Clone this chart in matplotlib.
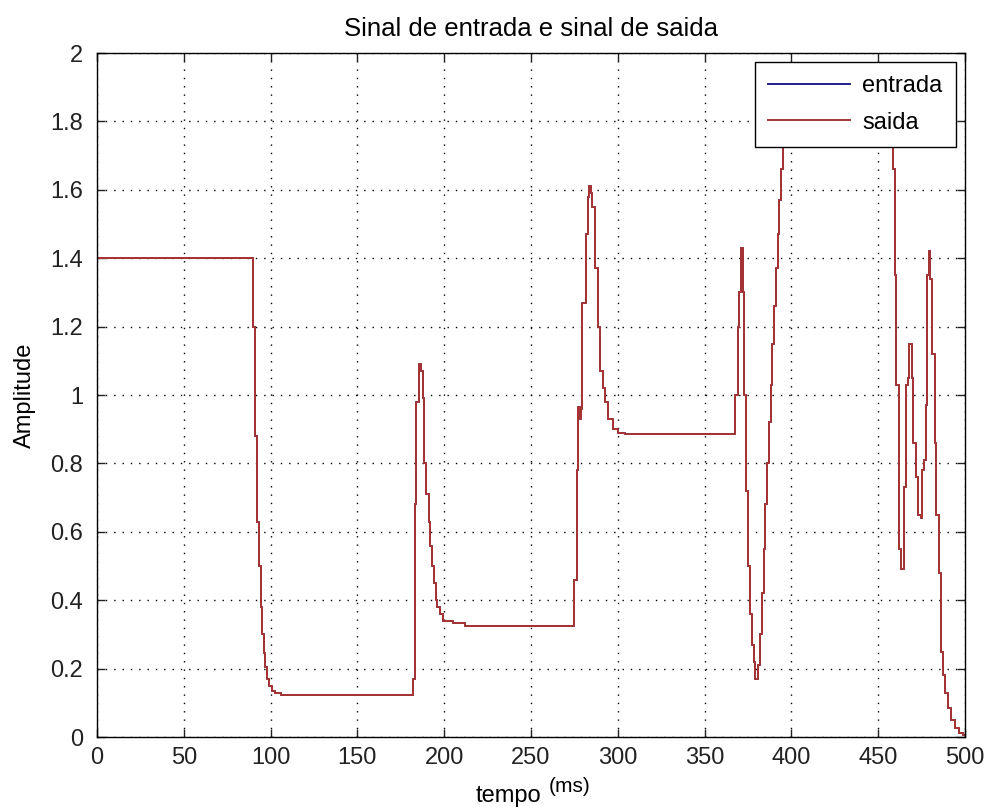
import matplotlib
matplotlib.use("Agg")
import matplotlib.pyplot as plt
from matplotlib.ticker import FormatStrFormatter

# instantes (ms) em que o sinal muda de nivel, e o nivel a partir dali
tempo = [
    0, 90, 91, 92.3, 93.3, 94.3, 95.2, 96, 97, 98, 99, 100.6, 102.5, 106,
    182, 183, 184, 185.3, 186.5, 187.5, 188.5, 189.5, 191, 192, 193, 194,
    195, 196, 197.5, 199.5, 205, 212,
    274.5, 276.3, 277.3, 278.3, 279, 279.6, 281.5, 282.6, 283.5, 284.5,
    285.3, 286.8, 288.4, 290, 291.3, 292.6, 294.5, 297.4, 300, 304,
    367.5, 369, 370, 371, 372, 372.8, 374, 375, 376.3, 377.3, 378.3, 379.3,
    381, 382, 383, 384, 385, 386, 387, 388, 389, 390, 391, 392, 393, 394,
    395, 396, 398, 405, 420, 440, 452, 457,
    458.5, 459.5, 460.5, 462, 463, 465, 466, 467, 468, 469.5, 470.3, 471.5,
    472.8, 474.5, 475.5, 476.5, 477.3, 478, 479, 480, 481, 482.5, 483.5,
    485, 486, 487.2, 488.5, 490, 492, 494, 496.5, 499, 500,
]
entrada = [
    1.4, 1.2, 0.88, 0.63, 0.5, 0.38, 0.30, 0.245, 0.205, 0.17, 0.15, 0.135, 0.128, 0.123,
    0.17, 0.68, 0.98, 1.09, 1.07, 0.99, 0.8, 0.71, 0.63, 0.56, 0.5, 0.45,
    0.4, 0.38, 0.36, 0.34, 0.333, 0.325,
    0.46, 0.78, 0.965, 0.93, 0.96, 1.27, 1.47, 1.58, 1.61, 1.59,
    1.55, 1.37, 1.2, 1.07, 1.02, 0.98, 0.93, 0.9, 0.89, 0.885,
    1.0, 1.2, 1.3, 1.43, 1.3, 1.0, 0.72, 0.5, 0.36, 0.27, 0.22, 0.17,
    0.21, 0.3, 0.42, 0.55, 0.68, 0.8, 0.92, 1.03, 1.15, 1.26, 1.37, 1.47, 1.57, 1.66,
    1.74, 1.8, 1.85, 1.9, 1.92, 1.92, 1.9, 1.82,
    1.66, 1.35, 1.03, 0.55, 0.49, 0.73, 1.03, 1.05, 1.15, 1.05, 0.86, 0.76,
    0.65, 0.64, 0.78, 0.81, 0.97, 1.35, 1.42, 1.34, 1.12, 0.86, 0.65,
    0.48, 0.25, 0.18, 0.13, 0.085, 0.05, 0.025, 0.012, 0.006, 0.006,
]
saida = list(entrada)  # a saida coincide com a entrada

x_ticks = list(range(0, 501, 50))
y_ticks = [0, 0.2, 0.4, 0.6, 0.8, 1, 1.2, 1.4, 1.6, 1.8, 2]

plt.rcParams['font.family'] = ['Liberation Sans', 'DejaVu Sans']

fig = plt.figure(figsize=(9.88, 8.07), dpi=100)
ax = fig.add_axes([0.0982, 0.0867, 0.8785, 0.8476])

ax.plot(tempo, entrada, drawstyle='steps-post', color='#20208a', lw=1.4, label='entrada')
ax.plot(tempo, saida, drawstyle='steps-post', color='#a83434', lw=1.4, label='saida')

ax.set_xlim(0, 500)
ax.set_ylim(0, 2)
ax.set_xticks(x_ticks)
ax.set_yticks(y_ticks)
ax.yaxis.set_major_formatter(FormatStrFormatter('%g'))
ax.tick_params(direction='in', top=True, right=True, length=6, width=1,
               labelsize=17, colors='#222222')
ax.tick_params(axis='y', pad=10)
ax.tick_params(axis='x', pad=7)
ax.grid(True, color='k', linestyle=(0, (1, 5)), linewidth=1.0)
for s in ax.spines.values():
    s.set_linewidth(1.0)

ax.set_title('Sinal de entrada e sinal de saida', fontsize=18.5, pad=12)
fig.text(0.025, 0.51, 'Amplitude', fontsize=17, rotation=90, ha='center', va='center')
fig.text(0.481, 0.0, 'tempo', fontsize=17, ha='left', va='bottom')
fig.text(0.555, 0.014, '(ms)', fontsize=15, ha='left', va='bottom')

leg = ax.legend(loc='upper right', fontsize=17, fancybox=False, framealpha=1,
                edgecolor='k', handlelength=3.5, handletextpad=0.5,
                borderaxespad=0.4, labelspacing=0.6, borderpad=0.55)
leg.get_frame().set_linewidth(1.0)

fig.savefig('out.png', dpi=100)
